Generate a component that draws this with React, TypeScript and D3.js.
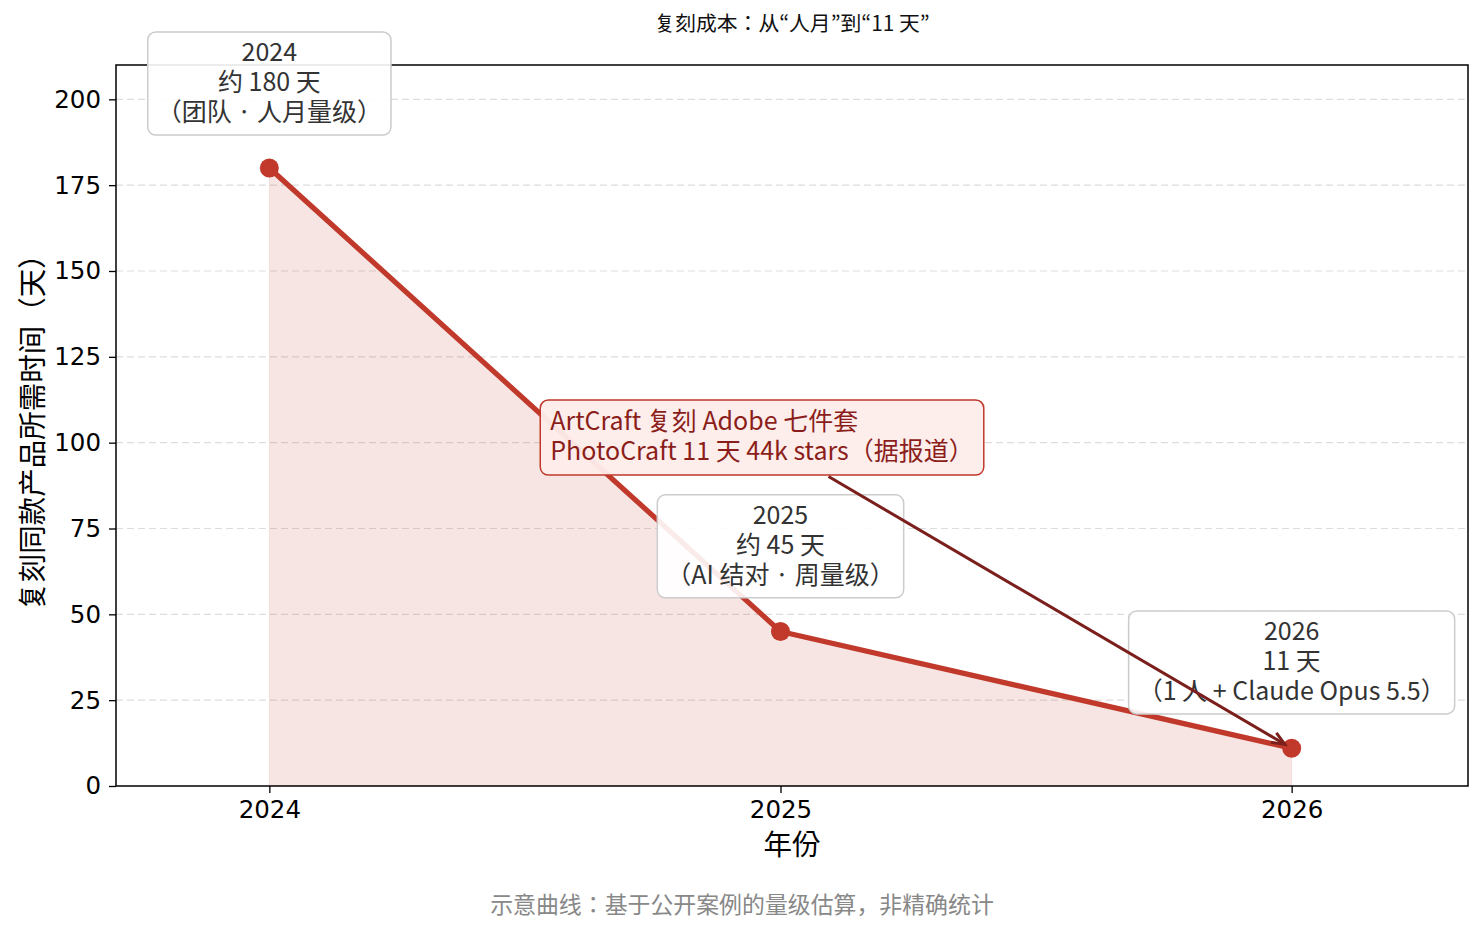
import React, { useRef, useEffect } from 'react';
import * as d3 from 'd3';

const years = [2024, 2025, 2026];
const days = [180, 45, 11];
const yTicks = [0, 25, 50, 75, 100, 125, 150, 175, 200];

// one note box per point: lines, and the box centre in days
const pointNotes = [
  ['2024', '约 180 天', '（团队 · 人月量级）'],
  ['2025', '约 45 天', '（AI 结对 · 周量级）'],
  ['2026', '11 天', '（1 人 + Claude Opus 5.5）'],
];
const pointNoteDays = [204.6, 69.8, 36];

const caseNote = ['ArtCraft 复刻 Adobe 七件套', 'PhotoCraft 11 天 44k stars（据报道）'];
const caseNoteX = 2024.53; // left edge, in years
const caseNoteDays = 101.5; // centre
const caseTarget = 2; // index of the point the arrow points to

const title = '复刻成本：从“人月”到“11 天”';
const xLabel = '年份';
const yLabel = '复刻同款产品所需时间（天）';
const footer = '示意曲线：基于公开案例的量级估算，非精确统计';

const CJK = '"Noto Sans CJK JP", "Noto Sans CJK SC", sans-serif';
const NUM = '"DejaVu Sans", sans-serif';

export default function App() {
  const svgRef = useRef<SVGSVGElement>(null);

  useEffect(() => {
    const root = d3.select(svgRef.current);
    root.selectAll('*').remove();

    const W = 1484, H = 933;
    const left = 116, right = 1468, top = 65, bottom = 786;

    const x = d3.scaleLinear().domain([2023.7, 2026.345]).range([left, right]);
    const y = d3.scaleLinear().domain([0, 210]).range([bottom, top]);
    const red = '#c0392b';

    root.attr('width', W).attr('height', H);
    root.append('rect').attr('width', W).attr('height', H).attr('fill', '#fff');

    // grid
    root.append('g')
      .selectAll('line')
      .data(yTicks.filter(d => d > 0))
      .enter().append('line')
      .attr('x1', left).attr('x2', right)
      .attr('y1', d => y(d)).attr('y2', d => y(d))
      .attr('stroke', '#dddddd')
      .attr('stroke-width', 1.2)
      .attr('stroke-dasharray', '7 4');

    const pts = years.map((yr, i) => ({ yr, v: days[i] }));

    // area
    const area = d3.area<{ yr: number; v: number }>()
      .x(d => x(d.yr)).y0(y(0)).y1(d => y(d.v));
    root.append('path')
      .attr('d', area(pts))
      .attr('fill', red)
      .attr('fill-opacity', 0.13)
      .attr('stroke', red)
      .attr('stroke-opacity', 0.1);

    // line + markers
    const line = d3.line<{ yr: number; v: number }>().x(d => x(d.yr)).y(d => y(d.v));
    root.append('path')
      .attr('d', line(pts))
      .attr('fill', 'none')
      .attr('stroke', red)
      .attr('stroke-width', 5.2)
      .attr('stroke-linejoin', 'round');
    root.append('g')
      .selectAll('circle')
      .data(pts)
      .enter().append('circle')
      .attr('cx', d => x(d.yr)).attr('cy', d => y(d.v))
      .attr('r', 9.5)
      .attr('fill', red);

    // frame
    root.append('rect')
      .attr('x', left).attr('y', top)
      .attr('width', right - left).attr('height', bottom - top)
      .attr('fill', 'none').attr('stroke', '#000').attr('stroke-width', 1.5);

    // y axis
    const yAxis = root.append('g')
      .attr('transform', `translate(${left},0)`)
      .call(d3.axisLeft(y).tickValues(yTicks).tickSize(7).tickPadding(8).tickFormat(d3.format('d')));
    yAxis.select('.domain').remove();
    yAxis.selectAll('line').attr('stroke', '#000').attr('stroke-width', 1.3);
    yAxis.selectAll('text')
      .style('font-family', NUM).style('font-size', '24.5px').style('fill', '#000');

    // x axis
    const xAxis = root.append('g')
      .attr('transform', `translate(0,${bottom})`)
      .call(d3.axisBottom(x).tickValues(years).tickSize(7).tickPadding(8).tickFormat(d3.format('d')));
    xAxis.select('.domain').remove();
    xAxis.selectAll('line').attr('stroke', '#000').attr('stroke-width', 1.3);
    xAxis.selectAll('text')
      .style('font-family', NUM).style('font-size', '24.5px').style('fill', '#000');

    // labels
    const cx = (left + right) / 2;
    root.append('text').attr('x', cx).attr('y', 31)
      .attr('text-anchor', 'middle').style('font-family', CJK).style('font-size', '20.8px')
      .style('fill', '#111').text(title);
    root.append('text').attr('x', cx).attr('y', 855)
      .attr('text-anchor', 'middle').style('font-family', CJK).style('font-size', '28.5px')
      .style('fill', '#000').text(xLabel);
    root.append('text')
      .attr('transform', `translate(43,${(top + bottom) / 2}) rotate(-90)`)
      .attr('text-anchor', 'middle').style('font-family', CJK).style('font-size', '28.5px')
      .style('fill', '#000').text(yLabel);
    root.append('text').attr('x', W / 2).attr('y', 913)
      .attr('text-anchor', 'middle').style('font-family', CJK).style('font-size', '22.9px')
      .style('fill', '#888').text(footer);

    const lineH = 30;
    const fs = '25px';

    // grey note boxes
    pointNotes.forEach((lines, i) => {
      const g = root.append('g');
      const rect = g.append('rect');
      const ccx = x(years[i]);
      const ccy = y(pointNoteDays[i]);
      let wMax = 0;
      lines.forEach((t, j) => {
        const el = g.append('text')
          .attr('x', ccx)
          .attr('y', ccy + (j - (lines.length - 1) / 2) * lineH + 7.5)
          .attr('text-anchor', 'middle')
          .style('font-family', CJK).style('font-size', fs).style('fill', '#333')
          .text(t);
        wMax = Math.max(wMax, (el.node() as SVGTextElement).getComputedTextLength());
      });
      const bw = wMax + 18, bh = lines.length * lineH + 13;
      rect.attr('x', ccx - bw / 2).attr('y', ccy - bh / 2)
        .attr('width', bw).attr('height', bh).attr('rx', 8)
        .attr('fill', '#fff').attr('fill-opacity', 0.9)
        .attr('stroke', '#cccccc').attr('stroke-width', 1.5);
    });

    // case note with arrow
    const g = root.append('g');
    const rect = g.append('rect');
    const bx = x(caseNoteX);
    const bcy = y(caseNoteDays);
    let wMax = 0;
    caseNote.forEach((t, j) => {
      const el = g.append('text')
        .attr('x', bx + 10)
        .attr('y', bcy + (j - (caseNote.length - 1) / 2) * lineH + 7.5)
        .style('font-family', CJK).style('font-size', fs).style('fill', '#8b1e1a')
        .text(t);
      wMax = Math.max(wMax, (el.node() as SVGTextElement).getComputedTextLength());
    });
    const bw = wMax + 20, bh = caseNote.length * lineH + 15;
    rect.attr('x', bx).attr('y', bcy - bh / 2)
      .attr('width', bw).attr('height', bh).attr('rx', 8)
      .attr('fill', '#fdecea').attr('fill-opacity', 0.96)
      .attr('stroke', red).attr('stroke-width', 1.5);

    // arrow: from box edge toward the target point
    const tx = x(years[caseTarget]), ty = y(days[caseTarget]);
    const bcx = bx + bw / 2;
    const dx = tx - bcx, dy = ty - bcy;
    const tEdge = Math.min((bw / 2) / Math.abs(dx), (bh / 2) / Math.abs(dy));
    const len = Math.hypot(dx, dy);
    const ux = dx / len, uy = dy / len;
    const sx = bcx + dx * tEdge + ux * 3, sy = bcy + dy * tEdge + uy * 3;
    const ex = tx - ux * 8, ey = ty - uy * 8;
    const arrowColor = '#7b1f1c';
    root.append('line')
      .attr('x1', sx).attr('y1', sy).attr('x2', ex).attr('y2', ey)
      .attr('stroke', arrowColor).attr('stroke-width', 3);
    const hl = 14, ang = 0.4;
    const ca = Math.cos(ang), sa = Math.sin(ang);
    const h1 = [ex - hl * (ux * ca - uy * sa), ey - hl * (uy * ca + ux * sa)];
    const h2 = [ex - hl * (ux * ca + uy * sa), ey - hl * (uy * ca - ux * sa)];
    root.append('path')
      .attr('d', `M${h1[0]},${h1[1]}L${ex},${ey}L${h2[0]},${h2[1]}`)
      .attr('fill', 'none').attr('stroke', arrowColor).attr('stroke-width', 3)
      .attr('stroke-linejoin', 'miter');
  }, []);

  return (
    <div style={{ position: 'absolute', left: 0, top: 0 }}>
      <svg ref={svgRef} style={{ display: 'block' }} />
    </div>
  );
}
